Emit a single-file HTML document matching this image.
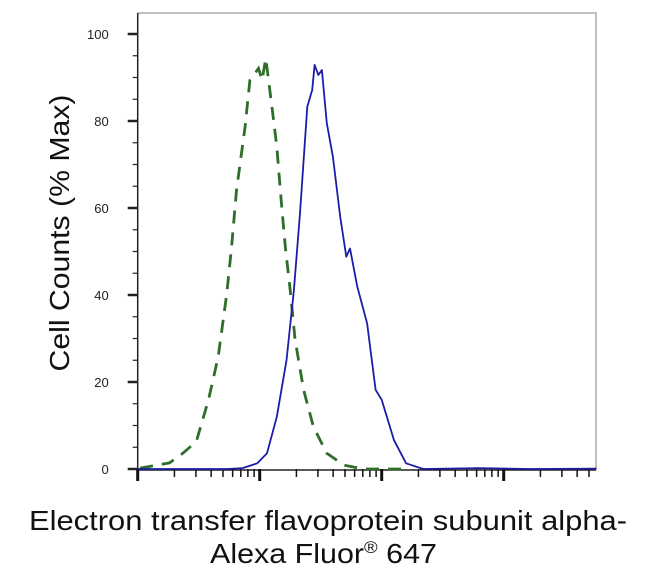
<!DOCTYPE html>
<html><head><meta charset="utf-8"><style>
body{margin:0;background:#fff;}
svg text{font-family:"Liberation Sans",Arial,sans-serif;}
</style></head><body>
<svg id="chart" width="650" height="580" xmlns="http://www.w3.org/2000/svg">
<g id="axes"></g>
<g id="series"></g>
<text transform="translate(69,233) rotate(-90)" text-anchor="middle" font-size="28" textLength="277" lengthAdjust="spacingAndGlyphs" fill="#111">Cell Counts (% Max)</text>
<text x="328" y="530" text-anchor="middle" font-size="28" textLength="598" lengthAdjust="spacingAndGlyphs" fill="#111">Electron transfer flavoprotein subunit alpha-</text>
<text x="210" y="563" font-size="28" fill="#111" textLength="227" lengthAdjust="spacingAndGlyphs">Alexa Fluor<tspan font-size="17" dy="-10">®</tspan><tspan dy="10"> 647</tspan></text>
</svg>
<script>
const yTicks=[0,20,40,60,80,100];
const xDecades=[0,1,2,3];
const isoX=[0.02,0.26,0.37,0.48,0.58,0.66,0.73,0.77,0.81,0.88,0.92,0.99,1.02,1.05,1.10,1.14,1.18,1.21,1.25,1.29,1.36,1.44,1.55,1.69,1.85,2.2];
const isoY=[0.2,1.4,3.6,6.3,15.9,25.8,40.4,51.1,64.1,78.7,89.4,92.1,89.4,94.4,83.3,74.1,60.3,51.1,41.1,29.7,18.2,9.7,3.6,0.9,0,0];
const sampX=[0.0,0.73,0.86,0.98,1.06,1.14,1.22,1.28,1.33,1.39,1.43,1.45,1.48,1.51,1.55,1.60,1.66,1.71,1.74,1.80,1.88,1.95,2.00,2.10,2.20,2.34,2.8,3.2,3.76];
const sampY=[0,0,0.2,1.3,3.6,12,25,41.1,58.8,83.3,87.1,92.9,90.6,91.7,79.5,71.8,58,48.8,50.7,41.9,33.5,18.2,15.9,6.7,1.3,0,0.2,0,0.1];

const X0=137.7,DEC=122,Y0=469,YS=87/20,XR=596,YT=13;
const sx=d=>X0+d*DEC, sy=v=>Y0-v*YS;
const NS="http://www.w3.org/2000/svg";
function mk(tag,attrs,parent){const e=document.createElementNS(NS,tag);for(const k in attrs)e.setAttribute(k,attrs[k]);parent.appendChild(e);return e;}
const ax=document.getElementById('axes'), se=document.getElementById('series');

const frame=mk('path',{d:`M${X0},${YT} H${XR} V${Y0+1}`,fill:'none',stroke:'#aaa','stroke-width':1.5},ax);


const yl=mk('line',{x1:X0,y1:YT,x2:X0,y2:Y0+1,stroke:'#222','stroke-width':1.5},ax);


const xl=mk('line',{x1:X0,y1:Y0+1,x2:XR,y2:Y0+1,stroke:'#222','stroke-width':1.5},ax);



for(let v=0;v<=100;v+=5){
  const major=yTicks.includes(v);
  const t=mk('line',{x1:major?X0-10:X0-5,x2:X0,y1:sy(v),y2:sy(v),stroke:'#222','stroke-width':major?2.5:1.2},ax);
  
  
}
yTicks.forEach(v=>{
  const t=mk('text',{x:X0-29,y:sy(v)+5,'text-anchor':'end','font-size':13,fill:'#222'},ax);
  t.textContent=v;
  
  
});
xDecades.forEach(d=>{
  const t=mk('line',{x1:sx(d),x2:sx(d),y1:Y0,y2:Y0+12,stroke:'#111','stroke-width':3},ax);
  
  
  for(let m=2;m<=9;m++){
    const x=sx(d+Math.log10(m));
    if(x>XR+1)continue;
    const mt=mk('line',{x1:x,x2:x,y1:Y0,y2:Y0+8,stroke:'#111','stroke-width':1.5},ax);
    
    
  }
});
function pathD(xs,ys){return xs.map((x,i)=>(i?'L':'M')+sx(x).toFixed(1)+','+sy(ys[i]).toFixed(1)).join(' ');}
const iso=mk('path',{d:pathD(isoX,isoY),fill:'none',stroke:'#2f6e2a','stroke-width':2.8,'stroke-dasharray':'13 9'},se);


const smp=mk('path',{d:pathD(sampX,sampY),fill:'none',stroke:'#1c1ca8','stroke-width':1.8,'stroke-linejoin':'round'},se);


</script>
</body></html>
